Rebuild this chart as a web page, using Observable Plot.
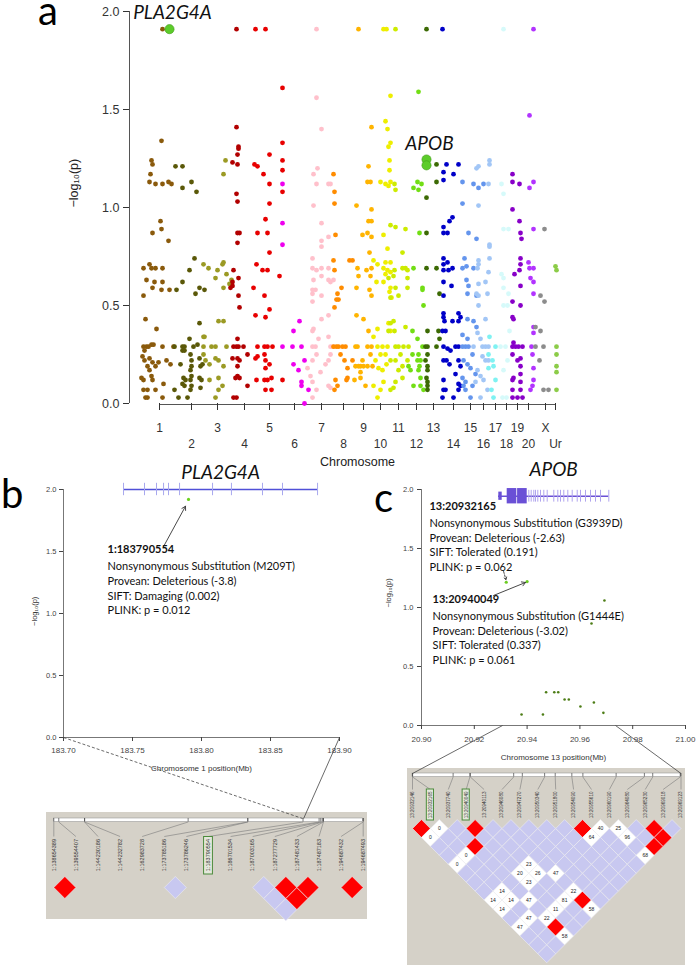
<!DOCTYPE html>
<html>
<head>
<meta charset="utf-8">
<script src="https://cdn.jsdelivr.net/npm/d3@7"></script>
<script src="https://cdn.jsdelivr.net/npm/@observablehq/plot@0.6"></script>
<style>
  html, body { margin: 0; padding: 0; background: #fff; }
  #page { position: relative; width: 697px; height: 965px; overflow: hidden; background: #fff; }
  .panel { position: absolute; }
  .letter { position: absolute; font-family: Lato, "Open Sans", sans-serif; font-size: 40px; line-height: 20px; color: #000; }
  .ldbg { position: absolute; background: #d5d1c8; }
</style>
</head>
<body>
<div id="page">
  <div class="ldbg" style="left:46px;top:812px;width:321px;height:107px"></div>
  <div class="ldbg" style="left:407px;top:768px;width:278px;height:197px"></div>
  <div class="panel" id="panelA" style="left:0px;top:0px;width:697px"></div>
  <div class="panel" id="panelB" style="left:0px;top:440px;width:360px"></div>
  <div class="panel" id="panelC" style="left:360px;top:440px;width:337px"></div>
  <div class="panel" id="ldB" style="left:46px;top:812px;width:321px"></div>
  <div class="panel" id="ldC" style="left:407px;top:768px;width:278px"></div>
  <div class="panel" id="overlay" style="left:0px;top:0px;width:697px;pointer-events:none"></div>
  <div class="letter" style="left:38px;top:0px">a</div>
  <div class="letter" style="left:1px;top:483px">b</div>
  <div class="letter" style="left:374px;top:487px">c</div>
</div>
<script>
// ================= DATA =================
// ---- panel a : Manhattan plot ----
const chromNames = ["1","2","3","4","5","6","7","8","9","10","11","12","13","14","15","16","17","18","19","20","X","Ur"];
const chromTicks = [159,191,217,244,269,294,321,343,363,380,398,416,433,453,470,483,495,506,517,528,545,555];
const chromColors = ["#8a5a0c","#5a5808","#9b9a24","#b20000","#e80000","#ee00ee","#ffc0cb","#ff8c00","#ffb400","#eeee00","#cdeb00","#72de14","#3c6a04","#0000c8","#6495ed","#a2c6f6","#7ff2f2","#d6fafa","#8800c8","#b233ff","#8c8c8c","#8ccc48"];
const genomeSpan = [129, 565];
const yTicksA = [0, 0.5, 1, 1.5, 2];

const chr1 = [[162,1.91],[161,1.34],[151,1.24],[152,1.22],[150,1.17],[149,1.13],[155,1.12],[162,1.12],[168,1.13],[171,1.12],[160,0.93],[161,0.89],[152,0.87],[168,0.83],[143,0.69],[149,0.71],[151,0.69],[155,0.69],[162,0.69],[146,0.63],[154,0.62],[162,0.62],[152,0.59],[161,0.58],[169,0.58],[143,0.55],[145,0.43],[156,0.38],[143,0.29],[146,0.29],[148,0.29],[151,0.3],[153,0.3],[162,0.29],[173,0.29],[142,0.24],[144,0.22],[149,0.23],[152,0.21],[147,0.19],[155,0.19],[149,0.17],[166,0.22],[170,0.2],[143,0.12],[151,0.14],[152,0.12],[163,0.1],[143,0.07],[147,0.07],[155,0.07],[145,0.03],[147,0.03],[162,0.03],[158,0.21],[144,0.27],[141,0.13]];
const chr2 = [[175,1.21],[182,1.21],[182,1.10],[191,1.13],[196,1.08],[182,0.62],[189,0.68],[195,0.56],[199,0.59],[204,0.58],[194,0.74],[176,0.58],[174,0.29],[182,0.29],[184,0.29],[193,0.29],[182,0.27],[184,0.27],[189,0.33],[190,0.25],[191,0.22],[191,0.19],[190,0.17],[191,0.14],[190,0.12],[191,0.09],[190,0.07],[183,0.13],[185,0.12],[182,0.1],[184,0.09],[178,0.03],[187,0.03],[199,0.23],[200,0.19],[202,0.2],[199,0.13],[201,0.12],[200,0.08],[174,0.07],[199,0.41],[197,0.3],[180,0.2]];
const chr3 = [[225,1.24],[223,1.17],[203,0.71],[208,0.69],[217,0.68],[222,0.71],[223,0.72],[215,0.64],[223,0.59],[226,0.66],[229,0.61],[231,0.63],[203,0.34],[204,0.34],[203,0.29],[211,0.29],[215,0.29],[218,0.42],[223,0.42],[203,0.25],[205,0.22],[215,0.23],[218,0.22],[209,0.12],[218,0.13],[222,0.09],[218,0.07],[215,0.03],[223,0.19],[209,0.2],[226,0.29]];
const chr4 = [[236,1.91],[236,1.41],[238,1.31],[238,1.30],[237,1.27],[237,1.22],[232,1.23],[236,1.07],[237,1.03],[237,0.87],[239,0.87],[237,0.82],[233,0.68],[238,0.64],[232,0.62],[230,0.59],[232,0.6],[238,0.55],[239,0.49],[233,0.29],[236,0.29],[238,0.29],[243,0.29],[237,0.33],[232,0.23],[237,0.23],[239,0.22],[237,0.19],[235,0.13],[237,0.14],[239,0.13],[233,0.03],[236,0.03],[247,0.09],[247,0.25]];
const chr5 = [[255,1.91],[265,1.91],[282,1.61],[282,1.33],[269,1.27],[282,1.24],[254,1.22],[257,1.21],[263,1.17],[282,1.19],[269,1.12],[282,1.08],[269,1.02],[265,0.94],[257,0.87],[267,0.87],[269,0.77],[256,0.71],[262,0.68],[267,0.68],[279,0.65],[253,0.59],[264,0.55],[269,0.48],[255,0.45],[265,0.44],[257,0.29],[264,0.29],[267,0.29],[272,0.29],[255,0.23],[257,0.24],[264,0.25],[265,0.22],[269,0.2],[265,0.18],[256,0.12],[264,0.12],[267,0.12],[271,0.13],[265,0.07],[271,0.07],[282,0.12]];
const chr6 = [[282,1.12],[282,0.92],[282,0.81],[282,0.29],[292,0.29],[301,0.29],[293,0.37],[299,0.42],[293,0.2],[304,0.22],[301,0.11],[301,0.09],[308,0.07],[304,0.0],[298,0.17]];
const chr7 = [[316,1.91],[316,1.56],[321,1.4],[317,1.2],[313,1.17],[316,1.12],[328,1.12],[330,1.12],[313,1.01],[321,0.92],[321,0.83],[321,0.8],[328,0.85],[312,0.74],[312,0.69],[316,0.68],[321,0.69],[328,0.69],[313,0.63],[321,0.65],[328,0.63],[330,0.62],[333,0.63],[312,0.56],[321,0.55],[312,0.58],[315,0.58],[312,0.52],[328,0.45],[321,0.43],[312,0.37],[313,0.38],[318,0.33],[328,0.34],[312,0.29],[315,0.29],[330,0.29],[333,0.29],[307,0.18],[312,0.22],[316,0.25],[330,0.25],[328,0.22],[310,0.14],[312,0.11],[328,0.09],[330,0.08],[316,0.07],[312,0.03],[320,0.16],[325,0.2]];
const chr8 = [[333,1.17],[334,1.08],[334,1.02],[335,0.86],[333,0.73],[334,0.68],[349,0.73],[341,0.59],[337,0.56],[338,0.53],[352,0.73],[334,0.49],[336,0.53],[333,0.29],[336,0.29],[338,0.29],[342,0.29],[345,0.29],[335,0.12],[337,0.09],[334,0.07],[347,0.13],[346,0.12],[352,0.22],[347,0.18],[344,0.22],[340,0.25]];
const chr9 = [[358,1.91],[371,1.41],[368,1.21],[367,1.13],[370,1.13],[356,1.01],[371,0.99],[368,0.93],[371,0.93],[362,0.86],[367,0.87],[371,0.85],[369,0.77],[357,0.69],[366,0.68],[371,0.69],[358,0.65],[370,0.65],[356,0.59],[369,0.58],[371,0.55],[355,0.29],[357,0.29],[367,0.29],[371,0.29],[363,0.43],[356,0.45],[355,0.19],[358,0.19],[360,0.19],[363,0.19],[367,0.19],[372,0.19],[360,0.16],[360,0.13],[370,0.25],[354,0.12],[368,0.37],[362,0.22],[365,0.09]];
const chr10 = [[383,1.91],[386,1.91],[390,1.57],[385,1.44],[387,1.4],[390,1.33],[388,1.31],[389,1.24],[389,1.19],[380,1.13],[390,1.13],[385,1.12],[388,1.11],[383,0.86],[387,0.79],[373,0.73],[377,0.71],[385,0.72],[390,0.72],[383,0.69],[387,0.68],[390,0.67],[376,0.62],[383,0.62],[390,0.59],[389,0.57],[391,0.54],[385,0.66],[377,0.03],[380,0.07],[373,0.09],[375,0.22],[380,0.25],[385,0.25],[377,0.29],[382,0.29],[387,0.29],[388,0.41],[390,0.37],[373,0.34],[377,0.38],[378,0.18],[382,0.17],[383,0.11],[386,0.2]];
const chr11 = [[395,1.91],[395,1.09],[394,1.12],[390,0.91],[395,0.9],[405,0.89],[402,0.77],[405,0.69],[407,0.68],[402,0.69],[394,0.68],[388,0.64],[393,0.65],[407,0.64],[407,0.59],[395,0.59],[390,0.54],[398,0.55],[390,0.41],[393,0.42],[388,0.37],[394,0.37],[405,0.39],[395,0.29],[398,0.29],[403,0.29],[408,0.29],[390,0.22],[395,0.22],[402,0.19],[407,0.22],[402,0.13],[393,0.08],[395,0.11],[390,0.07],[398,0.17],[400,0.25]];
const chr12 = [[418,1.59],[413,1.1],[417,1.13],[418,1.09],[421,1.12],[419,0.87],[413,0.69],[422,0.59],[422,0.58],[423,0.5],[412,0.37],[417,0.33],[418,0.25],[417,0.22],[420,0.22],[419,0.19],[418,0.17],[420,0.13],[412,0.25],[408,0.19],[413,0.09],[420,0.09],[410,0.17],[422,0.29],[423,0.07]];
const chr13 = [[426,1.91],[436,1.22],[436,1.13],[426,1.05],[426,0.87],[426,0.69],[436,0.69],[439,0.56],[427,0.37],[438,0.37],[425,0.29],[427,0.29],[436,0.29],[427,0.25],[425,0.22],[427,0.19],[427,0.17],[426,0.13],[427,0.11],[427,0.09],[427,0.07],[439,0.33]];
const chr14 = [[442,1.91],[446,1.22],[458,1.22],[443,1.18],[453,1.17],[443,1.14],[452,0.95],[449,0.93],[443,0.9],[443,0.87],[447,0.87],[443,0.74],[443,0.71],[447,0.72],[452,0.69],[443,0.68],[448,0.68],[443,0.62],[451,0.6],[443,0.55],[443,0.46],[443,0.44],[444,0.42],[458,0.46],[460,0.44],[458,0.42],[452,0.42],[445,0.37],[442,0.37],[443,0.29],[447,0.28],[450,0.27],[455,0.29],[458,0.29],[443,0.22],[446,0.22],[458,0.22],[460,0.19],[443,0.12],[458,0.1],[460,0.09],[443,0.07],[445,0.07],[458,0.07],[442,0.03],[453,0.03],[449,0.2],[455,0.15]];
const chr15 = [[462,1.13],[473,1.12],[478,1.1],[483,1.12],[462,1.02],[468,0.87],[476,0.84],[464,0.74],[462,0.69],[466,0.7],[473,0.69],[466,0.63],[468,0.6],[467,0.56],[476,0.55],[467,0.43],[473,0.42],[476,0.39],[462,0.35],[467,0.33],[462,0.29],[465,0.29],[468,0.29],[463,0.22],[467,0.2],[472,0.25],[470,0.18],[462,0.13],[465,0.11],[463,0.09],[472,0.09],[465,0.07],[470,0.03],[475,0.15]];
const chr16 = [[476,1.2],[478,1.21],[489,1.24],[489,1.22],[488,1.12],[478,1.01],[489,0.81],[489,0.8],[489,0.74],[478,0.73],[478,0.71],[477,0.69],[488,0.67],[485,0.62],[476,0.56],[478,0.55],[487,0.56],[478,0.61],[478,0.5],[485,0.43],[477,0.36],[480,0.33],[473,0.29],[482,0.29],[485,0.29],[488,0.29],[482,0.24],[485,0.22],[488,0.22],[477,0.17],[480,0.14],[475,0.11],[483,0.12],[487,0.07],[480,0.03]];
const chr17 = [[488,0.25],[492,0.22],[493,0.19],[495,0.29],[488,0.18],[493,0.03],[489,0.34],[495,0.12],[491,0.07]];
const chr18 = [[503,1.91],[501,1.12],[503,1.07],[503,0.89],[508,0.89],[503,0.64],[501,0.66],[503,0.59],[508,0.56],[507,0.5],[503,0.5],[509,0.37],[505,0.29],[507,0.22],[503,0.17],[502,0.03],[506,0.03],[500,0.29]];
const chr19 = [[512,1.17],[512,1.13],[519,1.12],[512,0.99],[519,0.93],[520,0.87],[521,0.84],[520,0.74],[520,0.71],[519,0.68],[514,0.66],[520,0.6],[512,0.52],[520,0.5],[512,0.44],[513,0.43],[513,0.31],[512,0.29],[515,0.29],[518,0.29],[522,0.29],[512,0.25],[517,0.22],[520,0.23],[520,0.19],[520,0.15],[513,0.13],[512,0.12],[520,0.11],[512,0.07],[520,0.07],[512,0.03],[517,0.03],[522,0.03]];
const chr20 = [[533,1.91],[529,1.47],[533,1.13],[529,1.1],[533,0.89],[528,0.72],[529,0.69],[533,0.69],[533,0.62],[530,0.64],[533,0.56],[533,0.39],[533,0.36],[531,0.29],[532,0.25],[533,0.18],[533,0.12],[532,0.09],[530,0.07]];
const chrX = [[544,0.89],[540,0.55],[544,0.52],[535,0.39],[540,0.37],[535,0.29],[543,0.29],[539,0.22],[543,0.07],[548,0.07]];
const chrUr = [[555,0.7],[556,0.68],[556,0.29],[556,0.25],[556,0.19],[556,0.16],[556,0.07]];
const hitGenes = ["PLA2G4A", "APOB", "APOB"];
const hitPos = [169, 426, 426];
const hitLogP = [1.91, 1.245, 1.215];

// ---- panel b : PLA2G4A locus ----
const pla2g4aRegion = [183.70, 183.90];
const bXTicks = [183.70, 183.75, 183.80, 183.85, 183.90];
const pla2g4aGene = [183.7435, 183.8841];
const pla2g4aExons = [183.7435, 183.7587, 183.7674, 183.7725, 183.7761, 183.7841, 183.8080, 183.8217, 183.8442, 183.8587, 183.8841];
const snpB = [[183.7906, 1.92]];
const annIdB = ["1:183790554"];
const annBodyB = ["Nonsynonymous Substitution (M209T)\nProvean: Deleterious (-3.8)\nSIFT: Damaging (0.002)\nPLINK: p = 0.012"];
const annAtB = [[183.7319, 1.516]];
const arrowsB = [[183.7725, 1.54, 183.7884, 1.865]];

// ---- panel c : APOB locus ----
const apobAxis = [20.90, 21.00];
const apobRegion = [20.9307, 20.9735];
const cXTicks = [20.90, 20.92, 20.94, 20.96, 20.98, 21.00];
const apobGene = [20.92917, 20.97095];
const apobUTR = [[20.92928, 20.93057]];
const apobBlocks = [[20.93246, 20.93610], [20.93640, 20.94004]];
const apobExons = [20.94065,20.94155,20.94254,20.94318,20.94405,20.94508,20.94633,20.94761,20.95011,20.95163,20.95265,20.95390,20.95542,20.95708,20.95898,20.96023,20.96212,20.96402,20.96591,20.96780,20.97095];
const snpC = [[20.9472,0.282],[20.9503,0.282],[20.9518,0.282],[20.9542,0.22],[20.9558,0.22],[20.9602,0.161],[20.9653,0.195],[20.9689,0.107],[20.9379,0.093],[20.9460,0.093],[20.9693,1.059],[20.9644,0.864]];
const snpCHits = [[20.9321,1.214],[20.9400,1.220]];
const annIdC = ["13:20932165", "13:20940049"];
const annBodyC = [
  "Nonsynonymous Substitution (G3939D)\nProvean: Deleterious (-2.63)\nSIFT: Tolerated (0.191)\nPLINK: p = 0.062",
  "Nonsynonymous Substitution (G1444E)\nProvean: Deleterious (-3.02)\nSIFT: Tolerated (0.337)\nPLINK: p = 0.061"
];
const annAtC = [[20.9030, 1.856], [20.9042, 1.068]];
const arrowsCdashed = [[20.9311, 1.305, 20.9320, 1.235]];
const arrowsCsolid = [[20.9273, 1.102, 20.9394, 1.212]];

// ---- LD blocks ----
const ldLevels = ["high", "mid", "low"];
const ldColors = ["#ff0000", "#ffffff", "#c8c8f0"];
const ldBNames = ["1:138654389","1:139554407","1:144230186","1:144232782","1:162983728","1:173785186","1:173786246","1:183790554","1:186701534","1:187003165","1:187277729","1:187481433","1:187487183","1:194687432","1:194687493"];
const ldBBoxed = ["1:183790554"];
const ldBHigh = [[0,1],[10,11],[11,12],[10,12],[13,14]];
const ldBLow = [[5,6],[9,10],[9,11],[9,12]];
const ldCNames = ["13:20932146","13:20932165","13:20937740","13:20940049","13:20940113","13:20946080","13:20947270","13:20950340","13:20951800","13:20954090","13:20955610","13:20960190","13:20964080","13:20965230","13:20969018","13:20969123"];
const ldCBoxed = ["13:20932165","13:20940049"];
const ldCHigh = [[0,1],[3,4],[2,5],[9,10],[13,14],[13,15],[12,15],[5,14],[2,14]];
const ldCMid = [[1,2,"0"],[0,2,"0"],[1,5,"0"],[0,5,"0"],[10,11,"40"],[9,11,"64"],[11,12,"25"],[11,13,"96"],[11,15,"68"],[4,9,"23"],[3,9,"20"],[4,10,"26"],[3,10,"23"],[5,11,"47"],[1,9,"14"],[0,9,"14"],[1,10,"14"],[0,10,"14"],[2,11,"47"],[5,13,"22"],[4,13,"81"],[3,13,"11"],[5,15,"58"],[1,12,"47"],[2,13,"22"],[0,12,"47"],[2,15,"58"]];

// ================= BUILD =================
const SANS = "Liberation Sans, Arial, Helvetica, sans-serif";
const CAL = "Lato, 'Open Sans', sans-serif";
const chromData = [chr1,chr2,chr3,chr4,chr5,chr6,chr7,chr8,chr9,chr10,chr11,chr12,chr13,chr14,chr15,chr16,chr17,chr18,chr19,chr20,chrX,chrUr];
const snps = chromData.flatMap((pts, k) => pts.map(([pos, lp]) => ({chrom: chromNames[k], pos, lp})));
const hits = hitGenes.map((g, k) => ({gene: g, pos: hitPos[k], lp: hitLogP[k]}));
const geneLabels = hits.filter((d, k) => hits.findIndex(e => e.gene === d.gene) === k);
const nameAt = new Map(chromTicks.map((t, k) => [t, chromNames[k]]));
const oddTicks = chromTicks.filter((t, k) => k % 2 === 0);
const evenTicks = chromTicks.filter((t, k) => k % 2 === 1);
const tickMid = (chromTicks[0] + chromTicks[chromTicks.length - 1]) / 2;

const plotA = Plot.plot({
  width: 697, height: 475,
  marginLeft: 129, marginRight: 697 - genomeSpan[1], marginTop: 11, marginBottom: 72,
  x: {domain: genomeSpan},
  y: {domain: [0, 2]},
  color: {domain: chromNames, range: chromColors},
  style: {fontFamily: SANS, background: "transparent", overflow: "visible", color: "#222"},
  marks: [
    Plot.ruleX([genomeSpan[0]], {y1: 0, y2: 2, stroke: "#555"}),
    Plot.ruleY([0], {x1: chromTicks[0], x2: chromTicks[chromTicks.length - 1], stroke: "#555", dy: 1}),
    Plot.axisY({ticks: yTicksA, tickFormat: d3.format(".1f"), tickSize: 6, tickPadding: 4, fontSize: 12.5, color: "#333", label: null}),
    Plot.axisX({ticks: oddTicks, tickFormat: t => nameAt.get(t), tickSize: 7, tickPadding: 13, fontSize: 12, color: "#333", label: null}),
    Plot.axisX({ticks: evenTicks, tickFormat: t => nameAt.get(t), tickSize: 7, tickPadding: 29, fontSize: 12, color: "#333", label: null}),
    Plot.text(["Chromosome"], {x: tickMid, frameAnchor: "bottom", dy: 62, fontSize: 12.5, fill: "#222"}),
    Plot.text(["−log₁₀(p)"], {frameAnchor: "left", dx: -56, rotate: -90, fontSize: 12.5, fill: "#222"}),
    Plot.dot(snps, {x: "pos", y: "lp", fill: "chrom", r: 2.4}),
    Plot.dot(hits, {x: "pos", y: "lp", fill: "#5ccc2a", stroke: "#3f9a18", strokeWidth: 0.6, r: 4.6}),
    Plot.text(geneLabels, {x: "pos", y: "lp", text: "gene", dx: 3, dy: -16, fontSize: 19, fontStyle: "italic", fontFamily: CAL, fill: "#111"})
  ]
});
document.getElementById("panelA").append(plotA);

// ---- panel b
const annB = annIdB.map((id, k) => ({id, body: annBodyB[k], x: annAtB[k][0], y: annAtB[k][1]}));
const plotB = Plot.plot({
  width: 360, height: 340, marginLeft: 63, marginRight: 21, marginTop: 49, marginBottom: 43,
  x: {domain: pla2g4aRegion},
  y: {domain: [0, 2]},
  style: {fontFamily: SANS, background: "transparent", overflow: "visible", color: "#333"},
  marks: [
    Plot.ruleX([pla2g4aRegion[0]], {y1: 0, y2: 2, stroke: "#777"}),
    Plot.ruleY([0], {x1: pla2g4aRegion[0], x2: pla2g4aRegion[1], stroke: "#777"}),
    Plot.axisY({ticks: yTicksA, tickFormat: d3.format(".1f"), tickSize: 4, tickPadding: 3, fontSize: 7.5, color: "#444", label: null}),
    Plot.axisX({ticks: bXTicks, tickFormat: d3.format(".2f"), tickSize: 4, tickPadding: 6, fontSize: 8, color: "#444", label: null}),
    Plot.text(["Chromosome 1 position(Mb)"], {x: d3.mean(pla2g4aRegion), frameAnchor: "bottom", dy: 33, fontSize: 8, fill: "#333"}),
    Plot.text(["−log₁₀(p)"], {frameAnchor: "left", y: 0.9, dx: -29, rotate: -90, fontSize: 7.5, fill: "#333"}),
    Plot.ruleY([2], {x1: pla2g4aGene[0], x2: pla2g4aGene[1], stroke: "#5050d8", strokeWidth: 1.5}),
    Plot.ruleX(pla2g4aExons, {y1: 1.95, y2: 2.05, stroke: "#a8a8ee", strokeWidth: 1}),
    Plot.text(["PLA2G4A"], {x: d3.mean(pla2g4aGene), y: 2, dy: -17, fontSize: 19, fontStyle: "italic", fontFamily: CAL, fill: "#111"}),
    Plot.dot(snpB, {x: d => d[0], y: d => d[1], fill: "#6cd21e", r: 1.6}),
    Plot.arrow(arrowsB, {x1: d => d[0], y1: d => d[1], x2: d => d[2], y2: d => d[3], stroke: "#333", strokeWidth: 0.9, headLength: 7}),
    Plot.text(annB, {x: "x", y: "y", text: "id", textAnchor: "start", fontWeight: "bold", fontSize: 11, fontFamily: CAL, fill: "#111"}),
    Plot.text(annB, {x: "x", y: "y", text: "body", textAnchor: "start", lineAnchor: "top", dy: 10.5, lineHeight: 1.33, fontSize: 11, fontFamily: CAL, fill: "#111"})
  ]
});
document.getElementById("panelB").append(plotB);

// ---- panel c
const annC = annIdC.map((id, k) => ({id, body: annBodyC[k], x: annAtC[k][0], y: annAtC[k][1]}));
const geneCy = 1.943;
const plotC = Plot.plot({
  width: 337, height: 330, marginLeft: 61, marginRight: 12, marginTop: 49, marginBottom: 45,
  x: {domain: apobAxis},
  y: {domain: [0, 2]},
  style: {fontFamily: SANS, background: "transparent", overflow: "visible", color: "#333"},
  marks: [
    Plot.ruleX([apobAxis[0]], {y1: 0, y2: 2, stroke: "#777"}),
    Plot.ruleY([0], {x1: apobAxis[0], x2: apobAxis[1], stroke: "#777"}),
    Plot.axisY({ticks: yTicksA, tickFormat: d3.format(".1f"), tickSize: 4, tickPadding: 4, fontSize: 7.5, color: "#444", label: null}),
    Plot.axisX({ticks: cXTicks, tickFormat: d3.format(".2f"), tickSize: 4, tickPadding: 7, fontSize: 8, color: "#444", label: null}),
    Plot.text(["Chromosome 13 position(Mb)"], {x: d3.mean(apobAxis), frameAnchor: "bottom", dy: 34, fontSize: 8, fill: "#333"}),
    Plot.text(["−log₁₀(p)"], {frameAnchor: "left", y: 1, dx: -33, rotate: -90, fontSize: 7.5, fill: "#333"}),
    Plot.ruleY([geneCy], {x1: apobGene[0], x2: apobGene[1], stroke: "#6a50d6", strokeWidth: 1.5}),
    Plot.ruleX(apobExons, {y1: geneCy - 0.05, y2: geneCy + 0.05, stroke: "#b0a4ee", strokeWidth: 1}),
    Plot.rect(apobUTR, {x1: d => d[0], x2: d => d[1], y1: geneCy - 0.035, y2: geneCy + 0.035, fill: "#6a50d6"}),
    Plot.rect(apobBlocks, {x1: d => d[0], x2: d => d[1], y1: geneCy - 0.065, y2: geneCy + 0.065, fill: "#6a50d6"}),
    Plot.text(["APOB"], {x: d3.mean(apobGene), y: 2, dy: -20, fontSize: 19, fontStyle: "italic", fontFamily: CAL, fill: "#111"}),
    Plot.dot(snpC, {x: d => d[0], y: d => d[1], fill: "#4d7d16", r: 1.3}),
    Plot.dot(snpCHits, {x: d => d[0], y: d => d[1], fill: "#6ccc22", r: 1.6}),
    Plot.arrow(arrowsCdashed, {x1: d => d[0], y1: d => d[1], x2: d => d[2], y2: d => d[3], stroke: "#333", strokeWidth: 0.9, strokeDasharray: "2,1.5", headLength: 5}),
    Plot.arrow(arrowsCsolid, {x1: d => d[0], y1: d => d[1], x2: d => d[2], y2: d => d[3], stroke: "#333", strokeWidth: 0.9, headLength: 7}),
    Plot.text(annC, {x: "x", y: "y", text: "id", textAnchor: "start", fontWeight: "bold", fontSize: 11, fontFamily: CAL, fill: "#111"}),
    Plot.text(annC, {x: "x", y: "y", text: "body", textAnchor: "start", lineAnchor: "top", dy: 10.3, lineHeight: 1.32, fontSize: 11, fontFamily: CAL, fill: "#111"})
  ]
});
document.getElementById("panelC").append(plotC);

// ---- LD heat maps
function ldPlot(cfg) {
  const n = cfg.names.length;
  const pos = cfg.names.map(s => +s.split(":")[1] / 1e6);
  const p0 = pos[0], p1 = pos[n - 1];
  const barIdx = p => (p - p0) / (p1 - p0) * (n - 1);
  const snpsLD = cfg.names.map((name, i) => ({name, idx: i, barIdx: barIdx(pos[i]), boxed: cfg.boxed.includes(name)}));
  const half = cfg.step / 2;
  const toD = px => (px - cfg.y0) / half;
  const h = Object.fromEntries(Object.entries(cfg.header).map(([k, v]) => [k, toD(v)]));
  const cells = [];
  const key = (i, j) => i + "-" + j;
  const high = new Set(cfg.high.map(([i, j]) => key(i, j)));
  const mid = new Map(cfg.mid.map(([i, j, t]) => [key(i, j), t]));
  const low = cfg.low ? new Set(cfg.low.map(([i, j]) => key(i, j))) : null;
  for (let i = 0; i < n; i++) for (let j = i + 1; j < n; j++) {
    const k = key(i, j);
    let level = null, label = "";
    if (high.has(k)) level = "high";
    else if (mid.has(k)) { level = "mid"; label = mid.get(k); }
    else if (!low || low.has(k)) level = "low";
    if (level) cells.push({i, j, level, label});
  }
  const dMax = n;
  const plot = Plot.plot({
    width: cfg.width, height: cfg.height, margin: 0,
    x: {domain: [0, n - 1], range: [cfg.x0, cfg.x0 + cfg.step * (n - 1)], axis: null},
    y: {domain: [0, dMax], range: [cfg.y0, cfg.y0 + half * dMax], axis: null},
    color: {domain: ldLevels, range: ldColors},
    style: {fontFamily: SANS, background: "transparent", overflow: "visible"},
    marks: [
      Plot.link(snpsLD, {x1: "barIdx", y1: h.barBottom, x2: "idx", y2: h.linkEnd, stroke: "#7a7a7a", strokeWidth: 0.6}),
      Plot.rect([0], {x1: 0, x2: n - 1, y1: h.barTop, y2: h.barBottom, fill: "#fff", stroke: "#999", strokeWidth: 0.6}),
      Plot.ruleX(snpsLD, {x: "barIdx", y1: h.barTop, y2: h.barBottom, stroke: "#444", strokeWidth: 0.7}),
      Plot.rect(snpsLD.filter(d => d.boxed), {x1: d => d.idx - 0.2, x2: d => d.idx + 0.2, y1: h.boxTop, y2: h.boxBottom, fill: "#e4e8dc", stroke: "#4b8b3b", strokeWidth: 1}),
      Plot.text(snpsLD, {x: "idx", y: h.labelTop, text: "name", rotate: -90, textAnchor: "end", fontSize: cfg.labelSize, fill: "#333"}),
      Plot.dot(cells, {x: d => (d.i + d.j) / 2, y: d => d.j - d.i, symbol: "diamond2", r: half / 1.11, fill: "level", stroke: "#ececf2", strokeWidth: 0.6}),
      Plot.text(cells.filter(d => d.label), {x: d => (d.i + d.j) / 2, y: d => d.j - d.i, text: "label", fontSize: 5, fill: "#222"})
    ]
  });
  return {plot, barIdx};
}

const ldBCfg = {names: ldBNames, boxed: ldBBoxed, high: ldBHigh, mid: [], low: ldBLow,
  width: 321, height: 107, x0: 7.3, step: 22.1, y0: 63.95, labelSize: 5.5,
  header: {barTop: 6, barBottom: 9.5, linkEnd: 24, labelTop: 26.5, boxTop: 24.5, boxBottom: 62}};
const ldCCfg = {names: ldCNames, boxed: ldCBoxed, high: ldCHigh, mid: ldCMid, low: null,
  width: 278, height: 197, x0: 5, step: 17.9, y0: 51.05, labelSize: 4.6,
  header: {barTop: 5, barBottom: 8.5, linkEnd: 21, labelTop: 23, boxTop: 21, boxBottom: 52}};
const LDB = ldPlot(ldBCfg);
const LDC = ldPlot(ldCCfg);
document.getElementById("ldB").append(LDB.plot);
document.getElementById("ldC").append(LDC.plot);

// ---- connectors (overlay) computed from the plots' own scales
function mapper(plot, left, top) {
  const sx = plot.scale("x"), sy = plot.scale("y");
  const fx = d3.scaleLinear(sx.domain, sx.range), fy = d3.scaleLinear(sy.domain, sy.range);
  return (x, y) => [left + fx(x), top + fy(y)];
}
const mB = mapper(plotB, 0, 440), mC = mapper(plotC, 360, 440);
const mLB = mapper(LDB.plot, 46, 812), mLC = mapper(LDC.plot, 407, 768);
const barTopB = (ldBCfg.header.barTop - ldBCfg.y0) / (ldBCfg.step / 2);
const barTopC = (ldCCfg.header.barTop - ldCCfg.y0) / (ldCCfg.step / 2);
const seg = (a, b, dashed) => ({x1: a[0], y1: a[1], x2: b[0], y2: b[1], dashed});
const conns = [
  seg(mB(pla2g4aRegion[0], 0), mLB(LDB.barIdx(pla2g4aRegion[0]), barTopB), true),
  seg(mB(pla2g4aRegion[1], 0), mLB(LDB.barIdx(pla2g4aRegion[1]), barTopB), false),
  seg(mC(apobRegion[0], 0), mLC(0, barTopC), false),
  seg(mC(apobRegion[1], 0), mLC(ldCNames.length - 1, barTopC), false)
];
const overlay = Plot.plot({
  width: 697, height: 965, margin: 0,
  x: {type: "identity", axis: null}, y: {type: "identity", axis: null},
  style: {background: "transparent", overflow: "visible"},
  marks: [
    Plot.link(conns.filter(d => d.dashed), {x1: "x1", y1: "y1", x2: "x2", y2: "y2", stroke: "#444", strokeWidth: 0.8, strokeDasharray: "3,2"}),
    Plot.link(conns.filter(d => !d.dashed), {x1: "x1", y1: "y1", x2: "x2", y2: "y2", stroke: "#444", strokeWidth: 0.8})
  ]
});
document.getElementById("overlay").append(overlay);
</script>
</body>
</html>
